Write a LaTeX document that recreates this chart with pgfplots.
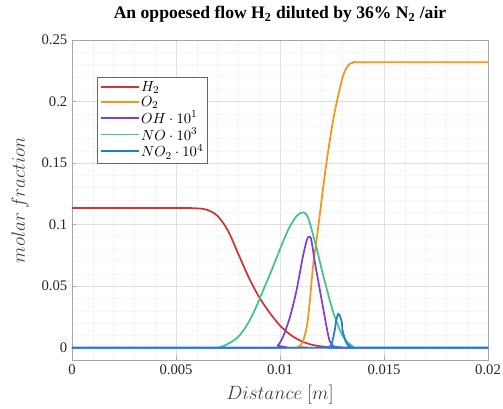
\documentclass[border=0pt]{standalone}
\usepackage{pgfplots}
\pgfplotsset{compat=1.18}
\usepackage{pgfplotstable}
\usepackage{fontspec}
\setmainfont{Liberation Serif}

\definecolor{cH}{RGB}{212,50,55}
\definecolor{cO}{RGB}{245,150,25}
\definecolor{cOH}{RGB}{125,65,205}
\definecolor{cNO}{RGB}{65,195,140}
\definecolor{cNOt}{RGB}{30,125,220}

\pgfplotstableread{
x y
0 0.1135
0.005 0.1135
0.006 0.1132
0.0065 0.1120
0.007 0.1070
0.0075 0.0950
0.008 0.0760
0.0085 0.0570
0.009 0.0410
0.0095 0.0285
0.010 0.0180
0.0105 0.0105
0.011 0.0055
0.0115 0.0025
0.012 0.0010
0.0125 0.0003
0.013 0
0.02 0
}\htwo

\pgfplotstableread{
x y
0 0
0.0106 0
0.0109 0.001
0.0111 0.005
0.0113 0.018
0.01144 0.039
0.0116 0.068
0.0118 0.093
0.0120 0.120
0.0122 0.146
0.0124 0.169
0.0126 0.189
0.0128 0.205
0.0130 0.219
0.0132 0.2275
0.0134 0.231
0.0136 0.232
0.0140 0.232
0.02 0.232
}\otwo

\pgfplotstableread{
x y
0 0
0.0096 0
0.0099 0.002
0.01015 0.009
0.01048 0.025
0.0108 0.047
0.0111 0.074
0.0113 0.088
0.0114 0.090
0.0115 0.088
0.01168 0.069
0.01183 0.055
0.0120 0.039
0.01226 0.015
0.0124 0.005
0.0126 0.001
0.0128 0
0.02 0
}\oh

\pgfplotstableread{
x y
0 0
0.0068 0
0.0072 0.001
0.0076 0.004
0.008 0.009
0.0084 0.018
0.0088 0.031
0.0092 0.047
0.0096 0.063
0.0100 0.080
0.0104 0.096
0.0108 0.107
0.0111 0.110
0.0113 0.1075
0.01144 0.101
0.0116 0.091
0.01178 0.0795
0.0120 0.064
0.01226 0.047
0.0125 0.032
0.01274 0.020
0.0130 0.010
0.01322 0.005
0.0135 0.001
0.0138 0
0.02 0
}\no

\pgfplotstableread{
x y
0 0
0.0122 0
0.0124 0.001
0.0125 0.004
0.01264 0.015
0.0127 0.022
0.0128 0.0275
0.0129 0.025
0.01298 0.020
0.0130 0.0145
0.01313 0.0065
0.0132 0.0035
0.0134 0.0005
0.0136 0
0.02 0
}\notwo

\begin{document}
\begin{tikzpicture}
\begin{axis}[
    name=ax,
    scale only axis,
    width=312pt, height=240pt,
    xmin=0, xmax=0.02, ymin=-0.01, ymax=0.25,
    xtick={0,0.005,0.01,0.015,0.02},
    ytick={0,0.05,0.1,0.15,0.2,0.25},
    scaled ticks=false,
    /pgf/number format/fixed,
    /pgf/number format/precision=3,
    /pgf/number format/assume math mode=true,
    tick label style={font=\fontsize{11}{13}\selectfont, text=black!85},
    minor x tick num=4, minor y tick num=4,
    grid=both,
    major grid style={gray!25, line width=0.4pt},
    minor grid style={gray!14, line width=0.3pt, dash pattern=on 1pt off 1pt},
    axis line style={gray!70},
    tick style={gray!70},
    minor tick length=0pt,
    major tick length=3pt,
    tick align=inside,
    xtick pos=bottom, ytick pos=left,
    title={\textbf{An oppoesed flow H\textsubscript{2} diluted by 36\% N\textsubscript{2} /air}},
    title style={font=\fontsize{13.2}{15}\selectfont, at={(axis description cs:0.5,1.041)}, anchor=base},
    xlabel={$Distance\ [m]$},
    ylabel={$molar\ fraction$},
    xlabel style={at={(axis description cs:0.5,-0.109)}, anchor=center},
    ylabel style={at={(axis description cs:-0.125,0.5)}, anchor=center},
    label style={font=\fontsize{13.5}{15}\selectfont, text=black!75},
    legend style={at={(0.06,0.885)}, anchor=north west,
        font=\fontsize{11}{13}\selectfont,
        draw=black!60, fill=white, inner xsep=2pt, inner ysep=1.5pt,
        row sep=-2pt, column sep=0pt,
        nodes={inner xsep=1pt},
        cells={anchor=west}},
    legend image code/.code={\draw[#1, line width=1.4pt] (0pt,0.3pt) -- (28.5pt,0.3pt);},
    every axis plot/.append style={line width=1.3pt},
]
\addplot[cH, smooth] table {\htwo};
\addlegendentry{$H_2$}
\addplot[cO, smooth] table {\otwo};
\addlegendentry{$O_2$}
\addplot[cOH, smooth] table {\oh};
\addlegendentry{$OH\cdot 10^1$}
\addplot[cNO, smooth] table {\no};
\addlegendentry{$NO\cdot 10^3$}
\addplot[cNOt, smooth] table {\notwo};
\addlegendentry{$NO_2\cdot 10^4$}
\end{axis}
\pgfresetboundingbox
\path[use as bounding box] ([shift={(-54pt,-36.75pt)}]ax.south west) rectangle ([shift={(11.25pt,30pt)}]ax.north east);
\end{tikzpicture}
\end{document}
